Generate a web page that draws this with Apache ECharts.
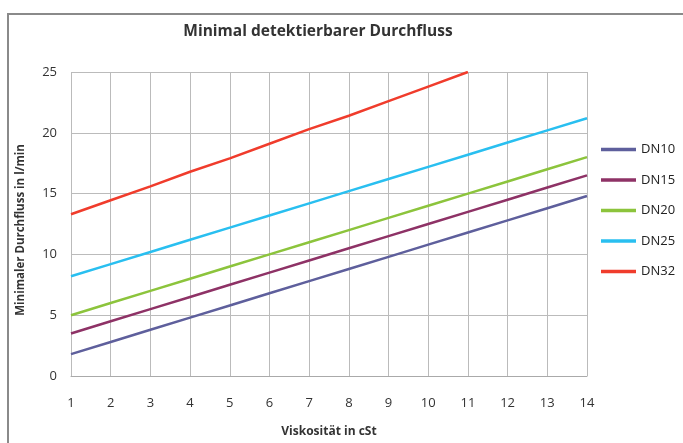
<!DOCTYPE html>
<html><head><meta charset="utf-8">
<script src="https://cdn.jsdelivr.net/npm/echarts@6/dist/echarts.min.js"></script>
<style>html,body{margin:0;padding:0;background:#fff}#c{width:683px;height:443px}</style>
</head><body><div id="c"></div>
<script>
const viscosity = [1,2,3,4,5,6,7,8,9,10,11,12,13,14];
const dn10 = [1.8,2.8,3.8,4.8,5.8,6.8,7.8,8.8,9.8,10.8,11.8,12.8,13.8,14.8];
const dn15 = [3.5,4.5,5.5,6.5,7.5,8.5,9.5,10.5,11.5,12.5,13.5,14.5,15.5,16.5];
const dn20 = [5,6,7,8,9,10,11,12,13,14,15,16,17,18];
const dn25 = [8.2,9.2,10.2,11.2,12.2,13.2,14.2,15.2,16.2,17.2,18.2,19.2,20.2,21.2];
const dn32 = [13.3,14.45,15.6,16.8,17.9,19.1,20.3,21.4,22.6,23.8,25];
const seriesNames = ['DN10','DN15','DN20','DN25','DN32'];
const seriesData = [dn10,dn15,dn20,dn25,dn32];
const colors = ['#5e5f9c','#8e3266','#8cc43c','#29bff0','#f03c2c'];
const font = '"Open Sans", "Noto Sans", sans-serif';
const chart = echarts.init(document.getElementById('c'));
chart.setOption({
  animation:false,
  backgroundColor:'#fff',
  title:{text:'Minimal detektierbarer Durchfluss',left:313,top:19,textAlign:'center',
    textStyle:{fontFamily:font,fontSize:15.5,fontWeight:'bold',color:'#333'}},
  graphic:[{type:'rect',shape:{x:8,y:14,width:700,height:500},style:{fill:'none',stroke:'#8a8a8a',lineWidth:2}}],
  legend:{orient:'vertical',left:596,top:138,itemGap:17.5,itemWidth:35,itemHeight:17,
    icon:'path://M0,0 L10,0 L10,1 L0,1 Z',
    textStyle:{fontFamily:font,fontSize:13,color:'#222'},data:seriesNames},
  grid:{left:71,right:96,top:72,bottom:64},
  xAxis:{type:'value',min:1,max:14,interval:1,
    name:'Viskosität in cSt',nameLocation:'middle',nameGap:50,
    nameTextStyle:{fontFamily:font,fontSize:12,fontWeight:'bold',color:'#333'},
    axisLine:{lineStyle:{color:'#aaa'}},axisTick:{show:false},
    axisLabel:{fontFamily:font,fontSize:13,color:'#333',margin:21},
    splitLine:{show:true,lineStyle:{color:'#bbb'}}},
  yAxis:{type:'value',min:0,max:25,interval:5,
    name:'Minimaler Durchfluss in l/min',nameLocation:'middle',nameGap:44,
    nameTextStyle:{fontFamily:font,fontSize:11.5,fontWeight:'bold',color:'#333',padding:[0,12,0,0]},
    axisLine:{show:false},axisTick:{show:false},
    axisLabel:{fontFamily:font,fontSize:13,color:'#333',margin:14},
    splitLine:{show:true,lineStyle:{color:'#bbb'}}},
  series: seriesNames.map((n,i)=>({name:n,type:'line',showSymbol:false,symbol:'none',
    data: seriesData[i].map((v,j)=>[viscosity[j],v]),
    lineStyle:{width:2.5,color:colors[i]},itemStyle:{color:colors[i]}}))
});
</script></body></html>
